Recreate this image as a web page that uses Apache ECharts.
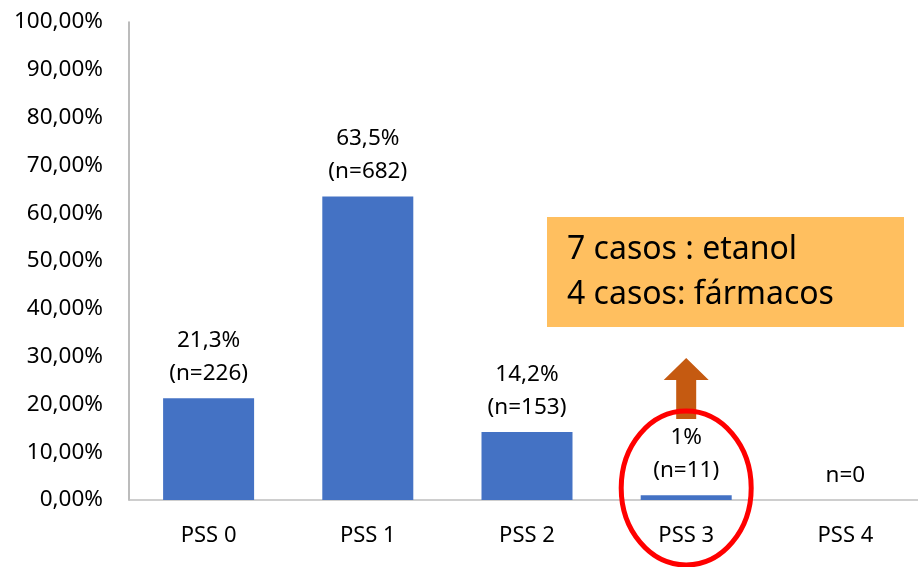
<!DOCTYPE html>
<html>
<head>
<meta charset="utf-8">
<script src="https://cdn.jsdelivr.net/npm/echarts@6/dist/echarts.min.js"></script>
<style>
html,body{margin:0;padding:0;background:#fff;}
#chart{width:918px;height:567px;}
</style>
</head>
<body>
<div id="chart"></div>
<script>
var categories = ['PSS 0', 'PSS 1', 'PSS 2', 'PSS 3', 'PSS 4'];
var percentValues = [21.3, 63.5, 14.2, 1, 0];
var percentLabels = ['21,3%', '63,5%', '14,2%', '1%', ''];
var countLabels = ['(n=226)', '(n=682)', '(n=153)', '(n=11)', 'n=0'];
var noteLines = ['7 casos : etanol', '4 casos: fármacos'];
var highlightCategory = 'PSS 3';

var FONT = '"Noto Sans", "Open Sans", sans-serif';
var chart = echarts.init(document.getElementById('chart'));

var option = {
  animation: false,
  grid: { left: 129, width: 796, top: 22, bottom: 67, outerBoundsMode: 'none', containLabel: false },
  xAxis: {
    type: 'category',
    data: categories,
    axisLine: { show: true, lineStyle: { color: '#BFBFBF', width: 1.5 } },
    axisTick: { show: false },
    axisLabel: { color: '#000', fontSize: 22, fontFamily: FONT, margin: 25 }
  },
  yAxis: {
    type: 'value',
    min: 0, max: 100, interval: 10,
    axisLine: { show: true, lineStyle: { color: '#A6A6A6', width: 1.5 } },
    axisTick: { show: false },
    splitLine: { show: false },
    axisLabel: {
      color: '#000', fontSize: 22.5, fontFamily: FONT, margin: 26,
      formatter: function (v) { return v.toFixed(2).replace('.', ',') + '%'; }
    }
  },
  series: [{
    type: 'bar',
    data: percentValues,
    barWidth: 91,
    itemStyle: { color: '#4472C4' },
    label: {
      show: true,
      position: 'top',
      distance: 8,
      color: '#000',
      fontSize: 22.5,
      lineHeight: 33,
      fontFamily: FONT,
      formatter: function (p) {
        var a = percentLabels[p.dataIndex];
        var b = countLabels[p.dataIndex];
        return a ? a + '\n' + b : b;
      }
    }
  }]
};
chart.setOption(option);

var base = chart.convertToPixel({ xAxisIndex: 0, yAxisIndex: 0 }, [highlightCategory, 0]);
var cx = base[0], by = base[1];

chart.setOption({
  graphic: [
    {
      type: 'rect',
      shape: { x: 547, y: 217, width: 357, height: 110 },
      style: { fill: '#FFBF5F' },
      z: 10
    },
    {
      type: 'text',
      x: 567, y: 250,
      style: { text: noteLines[0], fontSize: 32, fontFamily: FONT, fill: '#000', textVerticalAlign: 'middle' },
      z: 11
    },
    {
      type: 'text',
      x: 567, y: 295,
      style: { text: noteLines[1], fontSize: 32, fontFamily: FONT, fill: '#000', textVerticalAlign: 'middle' },
      z: 11
    },
    {
      type: 'polygon',
      shape: { points: [
        [cx, by - 142], [cx + 22.5, by - 120], [cx + 10, by - 120], [cx + 10, by - 81],
        [cx - 10, by - 81], [cx - 10, by - 120], [cx - 22.5, by - 120]
      ] },
      style: { fill: '#C55A11' },
      z: 10
    },
    {
      type: 'ellipse',
      shape: { cx: cx, cy: by - 12, rx: 65, ry: 77 },
      style: { fill: 'none', stroke: '#FF0000', lineWidth: 5 },
      z: 12
    }
  ]
});
</script>
</body>
</html>
